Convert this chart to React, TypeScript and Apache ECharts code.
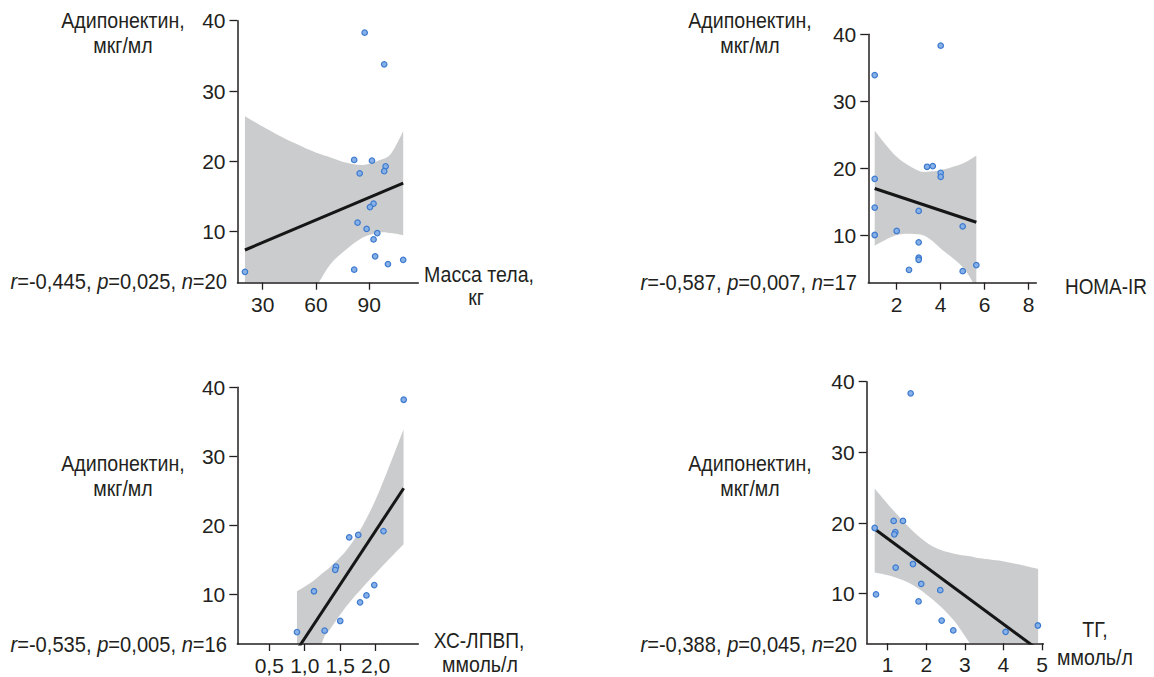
import React, { useEffect, useRef } from 'react';
import * as echarts from 'echarts';

const FONT = "'Liberation Sans', Arial, sans-serif";
const INK = '#231f20';
const BAND = '#cbcccd';
const DOT = '#86b0e6';
const DOT_EDGE = '#3b79cf';
const LINE = '#161616';

const yTicks = [10, 20, 30, 40];

// Panel 1: body mass
const massTicks = [30, 60, 90];
const massX = [87.4, 98.4, 81.5, 91.5, 99.2, 98.4, 84.6, 92.4, 90.4, 83.4, 88.5, 94.5, 92.4, 93.3, 109.1, 100.5, 81.5, 20.0];
const massY = [38.3, 33.8, 20.2, 20.1, 19.3, 18.6, 18.3, 14.0, 13.5, 11.3, 10.4, 9.8, 8.9, 6.5, 6.0, 5.4, 4.6, 4.3];
const massFitX = [20, 109.1];
const massFitY = [7.4, 16.9];
const massCiX = [20, 39.7, 58.5, 67.9, 77.2, 86.6, 96.0, 102.2, 109.1];
const massCiUpper = [26.4, 23.6, 21.4, 20.6, 19.8, 19.5, 20.2, 21.1, 24.3];
const massCiLower = [-11.6, -4.6, 1.6, 5.3, 7.5, 9.2, 9.9, 9.8, 9.5];

// Panel 2: HOMA-IR
const homaTicks = [2, 4, 6, 8];
const homaX = [4.0, 1.0, 1.0, 3.38, 3.64, 4.0, 4.0, 1.0, 3.0, 1.0, 2.0, 5.0, 3.0, 3.0, 3.0, 2.56, 5.0, 5.62];
const homaY = [38.3, 33.9, 18.4, 20.2, 20.3, 19.3, 18.7, 14.1, 13.6, 10.0, 10.6, 11.3, 8.9, 6.6, 6.3, 4.8, 4.6, 5.5];
const homaFitX = [1.0, 5.62];
const homaFitY = [16.95, 11.9];
const homaCiX = [1.0, 2.0, 3.0, 3.5, 4.0, 5.0, 5.62];
const homaCiUpper = [25.6, 21.7, 19.6, 19.5, 19.7, 20.7, 21.9];
const homaCiLower = [8.4, 10.0, 10.1, 9.4, 8.0, 5.2, 2.0];

// Panel 3: HDL cholesterol
const hdlTicks = [0.5, 1.0, 1.5, 2.0];
const hdlX = [2.395, 2.11, 1.754, 1.627, 1.44, 1.43, 1.13, 1.98, 1.87, 1.78, 1.5, 1.28, 0.89];
const hdlY = [38.2, 19.2, 18.65, 18.3, 14.05, 13.6, 10.5, 11.4, 9.9, 8.9, 6.2, 4.8, 4.6];
const hdlFitX = [0.89, 2.395];
const hdlFitY = [2.0, 25.4];
const hdlCiX = [0.89, 1.12, 1.263, 1.357, 1.593, 1.828, 2.064, 2.393];
const hdlCiUpper = [10.5, 12.0, 13.2, 14.0, 16.5, 20.2, 25.3, 33.9];
const hdlCiLower = [-6.5, -0.8, 3.6, 5.0, 8.4, 11.2, 13.8, 17.3];

// Panel 4: triglycerides
const tgTicks = [1, 2, 3, 4, 5];
const tgX = [1.596, 0.663, 1.155, 1.396, 1.197, 1.172, 1.655, 1.207, 1.87, 2.363, 0.697, 1.8, 2.4, 2.7, 4.057, 4.894];
const tgY = [38.36, 19.3, 20.3, 20.3, 18.7, 18.4, 14.2, 13.7, 11.4, 10.5, 9.9, 8.9, 6.2, 4.8, 4.6, 5.5];
const tgFitX = [0.663, 4.894];
const tgFitY = [19.15, 2.1];
const tgCiX = [0.663, 1.146, 1.664, 2.182, 2.7, 3.13, 3.39, 4.08, 4.9];
const tgCiUpper = [24.9, 21.8, 18.8, 16.65, 15.7, 15.3, 15.0, 14.5, 13.5];
const tgCiLower = [13.0, 12.4, 11.2, 9.1, 6.3, 3.0, 1.4, -3.7, -9.3];

const zip = (a: number[], b: number[]) => a.map((v, i) => [v, b[i]]);

const panels = [
  {
    grid: { left: 237.5, top: 20.7, width: 180.8, height: 262 },
    xMin: 15.8, xMax: 117.6, yMin: 2.75, xTicks: massTicks,
    fmt: (v: number) => String(v),
    px: massX, py: massY, fx: massFitX, fy: massFitY,
    cx: massCiX, cu: massCiUpper, cl: massCiLower,
  },
  {
    grid: { left: 868.3, top: 34.3, width: 168, height: 248.4 },
    xMin: 0.709, xMax: 8.346, yMin: 2.87, xTicks: homaTicks,
    fmt: (v: number) => String(v),
    px: homaX, py: homaY, fx: homaFitX, fy: homaFitY,
    cx: homaCiX, cu: homaCiUpper, cl: homaCiLower,
  },
  {
    grid: { left: 237.3, top: 387.3, width: 181, height: 256.7 },
    xMin: 0.049, xMax: 2.601, yMin: 2.87, xTicks: hdlTicks,
    fmt: (v: number) => v.toFixed(1).replace('.', ','),
    px: hdlX, py: hdlY, fx: hdlFitX, fy: hdlFitY,
    cx: hdlCiX, cu: hdlCiUpper, cl: hdlCiLower,
  },
  {
    grid: { left: 866.7, top: 381.7, width: 176.6, height: 261.6 },
    xMin: 0.456, xMax: 5.034, yMin: 2.98, xTicks: tgTicks,
    fmt: (v: number) => String(v),
    px: tgX, py: tgY, fx: tgFitX, fy: tgFitY,
    cx: tgCiX, cu: tgCiUpper, cl: tgCiLower,
  },
];

const catmull = (p: number[][]) => {
  let s = '';
  for (let i = 0; i < p.length - 1; i++) {
    const p0 = p[i - 1] || p[i];
    const p1 = p[i];
    const p2 = p[i + 1];
    const p3 = p[i + 2] || p[i + 1];
    const c1 = [p1[0] + (p2[0] - p0[0]) / 6, p1[1] + (p2[1] - p0[1]) / 6];
    const c2 = [p2[0] - (p3[0] - p1[0]) / 6, p2[1] - (p3[1] - p1[1]) / 6];
    s += ` C${c1[0]},${c1[1]} ${c2[0]},${c2[1]} ${p2[0]},${p2[1]}`;
  }
  return s;
};

const textEl = (text: string, x: number, y: number, align: string, size = 22, sx = 0.89, rich?: any) => ({
  type: 'text',
  x, y,
  scaleX: sx,
  silent: true,
  style: {
    text,
    fill: INK,
    fontSize: size,
    fontFamily: FONT,
    align, textAlign: align,
    verticalAlign: 'middle', textVerticalAlign: 'middle',
    rich,
  },
});

const italicRich = {
  i: { fontStyle: 'italic', fontSize: 22, fontFamily: FONT, fill: INK },
};

const statTexts = [
  '{i|r}=-0,445, {i|p}=0,025, {i|n}=20',
  '{i|r}=-0,587, {i|p}=0,007, {i|n}=17',
  '{i|r}=-0,535, {i|p}=0,005, {i|n}=16',
  '{i|r}=-0,388, {i|p}=0,045, {i|n}=20',
];
const yName1 = 'Адипонектин,';
const yName2 = 'мкг/мл';

export default function App() {
  const ref = useRef<HTMLDivElement>(null);
  useEffect(() => {
    if (!ref.current) return;
    const chart = echarts.init(ref.current, undefined, { renderer: 'svg' });
    const series: any[] = [];
    panels.forEach((p, i) => {
      series.push({
        type: 'custom',
        xAxisIndex: i, yAxisIndex: i,
        clip: true,
        z: 1,
        silent: true,
        data: [[p.cx[0], p.cu[0]]],
        renderItem: (params: any, api: any) => {
          const up = p.cx.map((x, k) => api.coord([x, p.cu[k]]));
          const lo = p.cx.map((x, k) => api.coord([x, p.cl[k]])).reverse();
          const d = `M${up[0][0]},${up[0][1]}` + catmull(up) + ` L${lo[0][0]},${lo[0][1]}` + catmull(lo) + ' Z';
          const cs = params.coordSys;
          return {
            type: 'path',
            shape: { pathData: d },
            style: { fill: BAND, stroke: null },
            clipPath: { type: 'rect', shape: { x: cs.x, y: cs.y, width: cs.width, height: cs.height } },
          };
        },
      });
      series.push({
        type: 'line',
        xAxisIndex: i, yAxisIndex: i,
        data: zip(p.fx, p.fy),
        symbol: 'none',
        clip: true,
        z: 3,
        lineStyle: { color: LINE, width: 3 },
      });
      series.push({
        type: 'scatter',
        xAxisIndex: i, yAxisIndex: i,
        data: zip(p.px, p.py),
        symbolSize: 5.5,
        z: 4,
        itemStyle: { color: DOT, borderColor: DOT_EDGE, borderWidth: 1.2, opacity: 1 },
      });
    });

    const axisCommon = {
      axisLine: { show: true, lineStyle: { color: INK, width: 1.5 } },
      splitLine: { show: false },
    };

    const graphic: any[] = [];
    const yNamePos = [[123, 20, 45.5], [750, 20, 45.5], [123, 463, 488], [750, 463, 488]];
    yNamePos.forEach(([x, y1, y2]) => {
      graphic.push(textEl(yName1, x, y1, 'center'));
      graphic.push(textEl(yName2, x, y2, 'center'));
    });
    const statPos = [[227, 281.3], [857, 281.7], [227, 644], [857, 644]];
    statPos.forEach(([x, y], i) => {
      graphic.push(textEl(statTexts[i], x, y, 'right', 22, 0.915, italicRich));
    });
    graphic.push(textEl('Масса тела,', 479, 274.2, 'center'));
    graphic.push(textEl('кг', 476, 297.1, 'center'));
    graphic.push(textEl('HOMA-IR', 1065, 286.2, 'left', 22, 0.86));
    graphic.push(textEl('ХС-ЛПВП,', 479, 640, 'center', 22, 0.87));
    graphic.push(textEl('ммоль/л', 480, 663.8, 'center'));
    graphic.push(textEl('ТГ,', 1095, 629, 'center'));
    graphic.push(textEl('ммоль/л', 1095, 657, 'center'));

    chart.setOption({
      animation: false,
      backgroundColor: '#ffffff',
      grid: panels.map((p) => ({ ...p.grid, containLabel: false })),
      xAxis: panels.map((p, i) => ({
        type: 'value',
        gridIndex: i,
        min: p.xMin,
        max: p.xMax,
        z: 5,
        ...axisCommon,
        axisTick: { show: true, length: 7, inside: false, customValues: p.xTicks, lineStyle: { color: INK, width: 1.3 } },
        axisLabel: {
          show: true,
          customValues: p.xTicks,
          formatter: p.fmt,
          color: INK,
          fontSize: 21,
          fontFamily: FONT,
          margin: 11,
        },
      })),
      yAxis: panels.map((p, i) => ({
        type: 'value',
        gridIndex: i,
        min: p.yMin,
        max: 40,
        z: 5,
        ...axisCommon,
        axisTick: { show: true, length: 8, inside: false, customValues: yTicks, lineStyle: { color: INK, width: 1.3 } },
        axisLabel: {
          show: true,
          customValues: yTicks,
          color: INK,
          fontSize: 21,
          fontFamily: FONT,
          margin: 12,
        },
      })),
      series,
      graphic,
    });
    return () => chart.dispose();
  }, []);
  return <div ref={ref} style={{ position: 'absolute', left: 0, top: 0, width: 1154, height: 677 }} />;
}
